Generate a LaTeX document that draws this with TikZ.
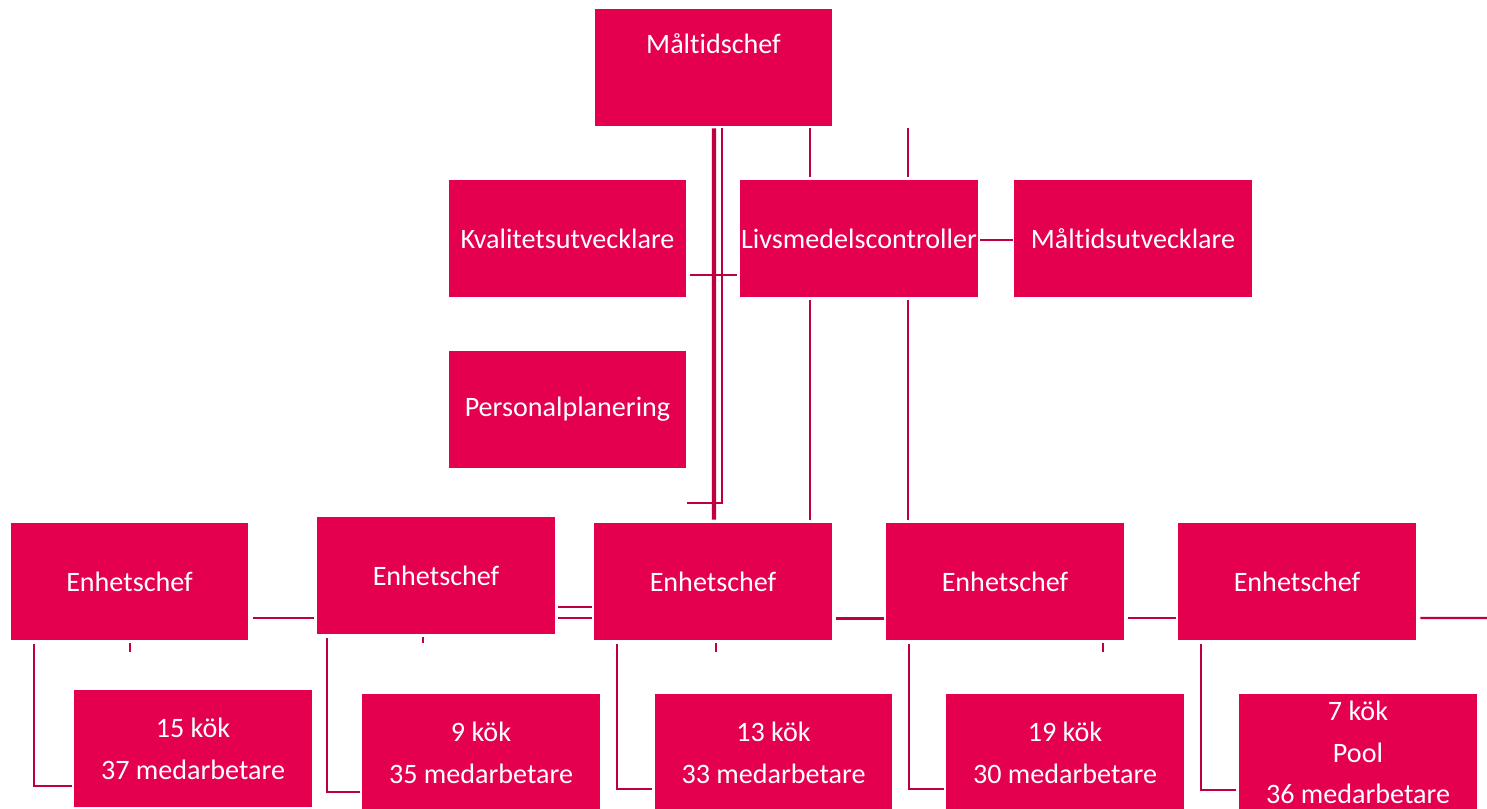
\documentclass[tikz,border=0pt]{standalone}
\usepackage{fontspec}
\setmainfont{Carlito}[Ligatures=NoCommon]
\definecolor{orgpink}{HTML}{E4004F}
\definecolor{orgline}{HTML}{C0003E}
\begin{document}
\begin{tikzpicture}[
    x={(0.02cm,0cm)}, y={(0cm,-0.02cm)},
    unit/.style={rectangle, fill=orgpink, text=white, minimum width=4.76cm, minimum height=2.34cm, align=center, inner sep=0pt, font=\fontsize{16}{23.8}\selectfont},
    wire/.style={draw=orgline, line width=1.2pt},
    thickwire/.style={draw=orgline, line width=2.3pt}
]
\useasboundingbox (0,0) rectangle (1487,808);

\node[unit, text depth=0.95cm] (chef) at (713.5, 67.5) {Måltidschef};
\node[unit] (kval) at (567.5, 238.5) {Kvalitetsutvecklare};
\node[unit] (livs) at (859, 238.5)   {Livsmedelscontroller};
\node[unit] (malt) at (1133, 238.5)  {Måltidsutvecklare};
\node[unit] (pers) at (567.5, 409.5) {Personalplanering};

\node[unit] (e1) at (129.5, 581.5) {Enhetschef};
\node[unit] (e2) at (436, 575.5)   {Enhetschef};
\node[unit] (e3) at (713, 581.5)   {Enhetschef};
\node[unit] (e4) at (1005, 581.5)  {Enhetschef};
\node[unit] (e5) at (1297, 581.5)  {Enhetschef};

\node[unit] (k1) at (193, 748.5)  {15 kök\\37 medarbetare};
\node[unit] (k2) at (481, 752.5)  {9 kök\\35 medarbetare};
\node[unit] (k3) at (773.5, 752.5){13 kök\\33 medarbetare};
\node[unit] (k4) at (1065, 752.5) {19 kök\\30 medarbetare};
\node[unit] (k5) at (1358, 752.5) {7 kök\\Pool\\36 medarbetare};

\coordinate (edge) at (1487, 618);

% ledning
\draw[thickwire] ([shift={(0.5,2)}]chef.south) -- ([shift={(1,-3)}]e3.north);
\draw[wire] ([shift={(8.5,2)}]chef.south) -- ([shift={(8.5,-20)}]chef.south |- e3.north) -| ([shift={(1,0)}]kval.east |- 0,503);
\draw[wire] ([shift={(3,36.5)}]kval.east) -- ([shift={(-3,36.5)}]livs.west);
\draw[wire] ([shift={(-49,2)}]chef.south -| livs.north) -- ([shift={(-49,-3)}]livs.north);
\draw[wire] ([shift={(49,2)}]chef.south -| livs.north) -- ([shift={(49,-3)}]livs.north);
\draw[wire] ([shift={(-49,3)}]livs.south) -- ([shift={(-49,-3)}]livs.south |- e3.north);
\draw[wire] ([shift={(49,3)}]livs.south) -- ([shift={(49,-3)}]livs.south |- e4.north);
\draw[wire] ([shift={(2,1.5)}]livs.east) -- ([shift={(-1,1.5)}]malt.west);

% enheter
\draw[wire] ([shift={(4,36.5)}]e1.east) -- ([shift={(-3,42.5)}]e2.west);
\draw[wire] ([shift={(3,31.5)}]e2.east) -- ([shift={(-2,25.5)}]e3.west);
\draw[wire] ([shift={(3,42.5)}]e2.east) -- ([shift={(-2,36.5)}]e3.west);
\draw[thickwire, line width=1.7pt] ([shift={(4,36.5)}]e3.east) -- ([shift={(-2,36.5)}]e4.west);
\draw[wire] ([shift={(4,36.5)}]e4.east) -- ([shift={(-2,36.5)}]e5.west);
\draw[wire] ([shift={(4,36.5)}]e5.east) -- (edge);

\draw[wire] ([shift={(0.5,3)}]e1.south) -- ++(0,9);
\draw[wire] ([shift={(-13,3)}]e2.south) -- ++(0,6);
\draw[wire] ([shift={(3,3)}]e3.south) -- ++(0,9);
\draw[wire] ([shift={(98,3)}]e4.south) -- ++(0,9);

% kök
\draw[wire] ([shift={(-95.5,4)}]e1.south) |- ([shift={(-2,37.5)}]k1.west);
\draw[wire] ([shift={(-109,4)}]e2.south) |- ([shift={(-2,39.5)}]k2.west);
\draw[wire] ([shift={(-96,4)}]e3.south) |- ([shift={(-2,36.5)}]k3.west);
\draw[wire] ([shift={(-96,4)}]e4.south) |- ([shift={(-2,36.5)}]k4.west);
\draw[wire] ([shift={(-96,4)}]e5.south) |- ([shift={(-3,37.5)}]k5.west);
\end{tikzpicture}
\end{document}
